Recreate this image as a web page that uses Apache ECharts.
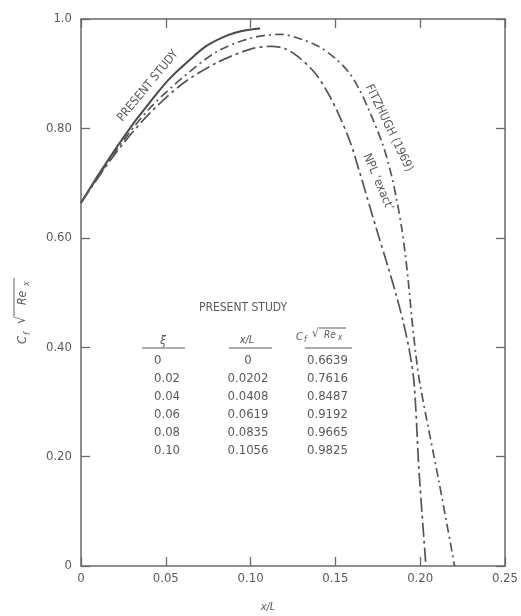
<!DOCTYPE html>
<html>
<head>
<meta charset="utf-8">
<script src="https://cdn.jsdelivr.net/npm/echarts@6/dist/echarts.min.js"></script>
<style>
  html, body { margin: 0; padding: 0; background: #fff; }
</style>
</head>
<body>
<div id="myChart" style="width:521px;height:616px"></div>
<script>
// tick labels
var xTickLabels = ['0', '0.05', '0.10', '0.15', '0.20', '0.25']
var yTickLabels = ['0', '0.20', '0.40', '0.60', '0.80', '1.0']

// present study (table values, also the solid curve)
var presentXi = ['0', '0.02', '0.04', '0.06', '0.08', '0.10']
var presentX = [0, 0.0202, 0.0408, 0.0619, 0.0835, 0.1056]
var presentCf = [0.6639, 0.7616, 0.8487, 0.9192, 0.9665, 0.9825]

// Fitzhugh (1969)
var fitzX = [0, 0.02, 0.04, 0.06, 0.08, 0.10, 0.118, 0.13, 0.14, 0.15, 0.158, 0.164, 0.17, 0.178, 0.183, 0.186, 0.189, 0.191, 0.193, 0.195, 0.1975, 0.2, 0.211, 0.2203]
var fitzCf = [0.664, 0.757, 0.835, 0.893, 0.94, 0.965, 0.972, 0.963, 0.95, 0.928, 0.902, 0.872, 0.832, 0.77, 0.715, 0.672, 0.62, 0.575, 0.52, 0.455, 0.385, 0.33, 0.155, 0]

// NPL 'exact'
var nplX = [0, 0.02, 0.04, 0.06, 0.08, 0.10, 0.112, 0.12, 0.1276, 0.1375, 0.145, 0.151, 0.1585, 0.1643, 0.17, 0.176, 0.181, 0.186, 0.19, 0.1935, 0.1964, 0.1993, 0.2034]
var nplCf = [0.664, 0.753, 0.826, 0.882, 0.92, 0.945, 0.95, 0.946, 0.932, 0.903, 0.868, 0.832, 0.777, 0.72, 0.66, 0.598, 0.547, 0.494, 0.446, 0.396, 0.335, 0.175, 0]

var FONT = "'DejaVu Sans Condensed', 'DejaVu Sans', sans-serif"
var INK = '#5a5a5a'

function pairs (xs, ys) {
  return xs.map(function (x, i) { return [x, ys[i]] })
}

function txt (x, y, s, opt) {
  opt = opt || {}
  return {
    type: 'text', x: x, y: y, rotation: opt.rotation || 0,
    style: {
      text: s, fill: INK, font: (opt.italic ? 'italic ' : '') + (opt.size || 12) + 'px ' + FONT,
      align: opt.align || 'left', verticalAlign: 'middle'
    }
  }
}

function line (x1, y1, x2, y2, w) {
  return { type: 'line', shape: { x1: x1, y1: y1, x2: x2, y2: y2 }, style: { stroke: INK, lineWidth: w || 1.2 } }
}

var graphics = []

// table
graphics.push(txt(243, 308, 'PRESENT STUDY', { align: 'center', size: 12 }))
graphics.push(txt(163, 341, 'ξ', { align: 'center', italic: true, size: 12 }))
graphics.push(line(142, 348, 185, 348))
graphics.push(txt(247, 340, 'x/L', { align: 'center', italic: true, size: 11 }))
graphics.push(line(229, 348, 272, 348))
graphics.push(txt(296, 337, 'C', { italic: true, size: 11 }))
graphics.push(txt(304, 340, 'f', { italic: true, size: 8 }))
graphics.push(txt(312, 334, '√', { size: 12 }))
graphics.push(line(319, 328, 346, 328, 1))
graphics.push(txt(324, 335, 'Re', { italic: true, size: 10 }))
graphics.push(txt(338, 338, 'x', { italic: true, size: 8 }))
graphics.push(line(305, 348, 352, 348))
presentXi.forEach(function (xi, i) {
  var y = 361 + i * 18
  graphics.push(txt(154, y, xi, { size: 13 }))
  graphics.push(txt(248, y, presentX[i] === 0 ? '0' : presentX[i].toFixed(4), { align: 'center', size: 13 }))
  graphics.push(txt(307, y, presentCf[i].toFixed(4), { size: 13 }))
})

// curve annotations
graphics.push(txt(148, 86, 'PRESENT STUDY', { align: 'center', size: 12, rotation: 0.88 }))
graphics.push(txt(389, 128, 'FITZHUGH (1969)', { align: 'center', size: 12, rotation: -1.12 }))
graphics.push(txt(378, 182, 'NPL ‘exact’', { align: 'center', size: 12, rotation: -1.17 }))

// axis titles
graphics.push(txt(268, 607, 'x/L', { align: 'center', italic: true, size: 11 }))
graphics.push({
  type: 'group', x: 23, y: 306, rotation: Math.PI / 2,
  children: [
    txt(-38, 0, 'C', { italic: true, size: 13 }),
    txt(-29, 5, 'f', { italic: true, size: 9 }),
    txt(-18, -2, '√', { size: 14 }),
    line(-10, -9, 28, -9, 1),
    txt(1, 0, 'Re', { italic: true, size: 12 }),
    txt(20, 4, 'x', { italic: true, size: 9 })
  ]
})

var axisLine = { show: true, onZero: false, lineStyle: { color: '#6a6a6a', width: 1.5 } }
var axisTick = { show: true, inside: true, length: 9, lineStyle: { color: '#6a6a6a', width: 1.3 } }

var options = {
  animation: false,
  backgroundColor: '#fff',
  grid: { left: 81, right: 11, top: 19, bottom: 50 },
  xAxis: [{
    type: 'value', position: 'bottom', min: 0, max: 0.25, interval: 0.05,
    axisLine: axisLine, axisTick: axisTick, splitLine: { show: false },
    axisLabel: {
      margin: 6, color: INK, fontSize: 13, fontFamily: FONT,
      formatter: function (v) { return xTickLabels[Math.round(v / 0.05)] }
    }
  }, {
    type: 'value', position: 'top', min: 0, max: 0.25, interval: 0.05,
    axisLine: axisLine, axisTick: axisTick, splitLine: { show: false }, axisLabel: { show: false }
  }],
  yAxis: [{
    type: 'value', position: 'left', min: 0, max: 1.0, interval: 0.2,
    axisLine: axisLine, axisTick: axisTick, splitLine: { show: false },
    axisLabel: {
      margin: 9, color: INK, fontSize: 13, fontFamily: FONT,
      formatter: function (v) { return yTickLabels[Math.round(v / 0.2)] }
    }
  }, {
    type: 'value', position: 'right', min: 0, max: 1.0, interval: 0.2,
    axisLine: axisLine, axisTick: axisTick, splitLine: { show: false }, axisLabel: { show: false }
  }],
  series: [{
    name: 'Present study',
    type: 'line', showSymbol: false, smooth: true,
    data: pairs(presentX, presentCf),
    lineStyle: { color: '#4a4a4a', width: 2 }
  }, {
    name: 'Fitzhugh (1969)',
    type: 'line', showSymbol: false, smooth: 0.3,
    data: pairs(fitzX, fitzCf),
    lineStyle: { color: '#555', width: 1.7, type: [9, 4, 2, 4] }
  }, {
    name: "NPL 'exact'",
    type: 'line', showSymbol: false, smooth: 0.3,
    data: pairs(nplX, nplCf),
    lineStyle: { color: '#555', width: 1.7, type: [14, 4, 3, 4] }
  }],
  graphic: graphics
}

var myChart = echarts.init(document.getElementById('myChart'))
myChart.setOption(options)
</script>
</body>
</html>
